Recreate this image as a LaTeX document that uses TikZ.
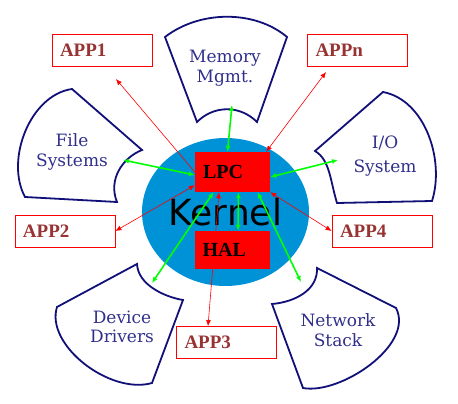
\documentclass[tikz,border=0pt]{standalone}
\usepackage{fontspec}
\setmainfont{Liberation Serif}
\newfontfamily\petalfont{DejaVu Serif}
\newfontfamily\kernelfont{DejaVu Sans}
\usetikzlibrary{positioning, shapes.geometric, arrows.meta}

\definecolor{kernelblue}{RGB}{0,146,214}
\definecolor{petalblue}{RGB}{16,16,120}
\definecolor{petaltext}{RGB}{48,48,140}
\definecolor{apptext}{RGB}{153,51,51}
\definecolor{linkgreen}{RGB}{0,255,0}

\tikzset{
  petal/.style={draw=petalblue, line width=1.8pt, fill=white},
  petallabel/.style={text=petaltext, align=center, font=\petalfont\fontsize{17}{19.5}\selectfont},
  appbox/.style={draw=red, line width=0.8pt, text=apptext, font=\bfseries\fontsize{19}{20}\selectfont,
    minimum height=32pt, text width=84pt, inner xsep=8pt, align=left},
  kbox/.style={fill=red, font=\bfseries\fontsize{20}{21}\selectfont,
    minimum height=40pt, text width=59pt, inner xsep=8pt, align=left},
  link/.style={draw=linkgreen, line width=1.6pt, <->},
  call/.style={draw=red, line width=0.6pt},
}

\begin{document}
\begin{tikzpicture}[x=1pt, y=-1pt, >={Latex[length=6pt,width=5pt]}]

    \useasboundingbox (0,0) rectangle (458,404);

    % the five petals round the kernel
    \draw[petal] (197,122) -- (165,37) .. controls (200,10) and (255,10) .. (287,37)
        -- (257,122) .. controls (240,105) and (214,105) .. (197,122) -- cycle;
    \draw[petal] (142,150) -- (72,89) .. controls (30,95) and (5,160) .. (25,197)
        -- (117,202) .. controls (108,180) and (122,158) .. (142,150) -- cycle;
    \draw[petal] (315,151) -- (383,92) .. controls (425,100) and (445,160) .. (432,201)
        -- (337,203) .. controls (330,180) and (330,160) .. (315,151) -- cycle;
    \draw[petal] (137,264) .. controls (138,285) and (165,297) .. (183,300)
        -- (152,383) .. controls (110,395) and (45,345) .. (57,307) -- cycle;
    \draw[petal] (317,268) .. controls (318,290) and (295,302) .. (272,304)
        -- (303,388) .. controls (340,395) and (415,345) .. (396,308) -- cycle;

    \node[petallabel] (mm) at (225,68) {Memory\\Mgmt.};
    \node[petallabel] (fs) at (72,152) {File\\Systems};
    \node[petallabel] (io) at (385,156) {I/O\\[4pt]System};
    \node[petallabel] (dd) at (122,327) {Device\\Drivers};
    \node[petallabel] (ns) at (338,330) {Network\\Stack};

    \coordinate (mmtip) at (232,105);
    \coordinate (fstip) at (123,160);
    \coordinate (iotip) at (338,160);
    \coordinate (ddtip) at (152,283);
    \coordinate (nstip) at (301,282);
    \coordinate (app1tip) at (116,79);
    \coordinate (appntip) at (326,72);

    % kernel
    \node[ellipse, fill=kernelblue, minimum width=167pt, minimum height=148pt, inner sep=0pt,
        font=\kernelfont\fontsize{36}{37}\selectfont] (kernel) at (225.5,212) {Kernel};

    \node[appbox] (app1) at (102,50) {APP1};
    \node[appbox] (appn) at (357.5,50) {APPn};
    \node[appbox] (app2) at (65,231) {APP2};
    \node[appbox] (app4) at (382,231) {APP4};
    \node[appbox] (app3) at (226.5,342.5) {APP3};

    \node[kbox] (lpc) at (232.5,172) {LPC};

    \draw[call, ->] (lpc.west) -- (app1tip);
    \draw[call, <->] ([xshift=-4pt]lpc.north east) -- (appntip);
    \draw[call, <->] ([yshift=7pt]lpc.south west) -- (app2.east);
    \draw[call, <->] (lpc.south east) -- (app4.west);
    \draw[call, <->] ([xshift=-13.5pt]lpc.south) -- ([xshift=-18.5pt]app3.north);

    \node[kbox, minimum height=38pt] (hal) at (232,250) {HAL};

    \draw[link] ([xshift=-5pt]lpc.north) -- (mmtip);
    \draw[link] ([yshift=-3pt]lpc.west) -- (fstip);
    \draw[link] ([yshift=-5pt]lpc.east) -- (iotip);
    \draw[link] ([xshift=-19pt]lpc.south) -- (ddtip);
    \draw[link] ([xshift=25pt]lpc.south) -- (nstip);
    \draw[link] ([xshift=6pt]lpc.south) -- ([xshift=6pt]hal.north);

\end{tikzpicture}
\end{document}
